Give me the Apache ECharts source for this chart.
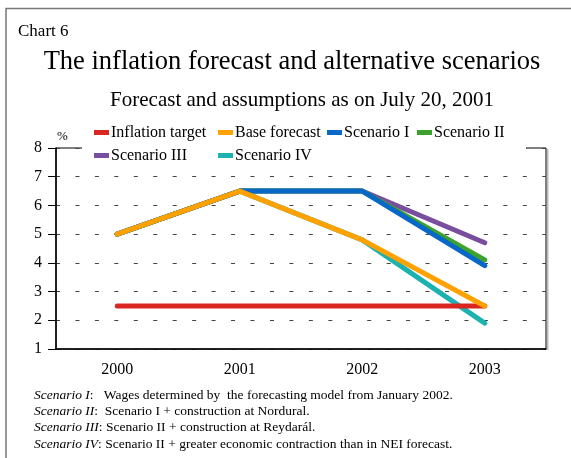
<!DOCTYPE html>
<html>
<head>
<meta charset="utf-8">
<script src="https://cdn.jsdelivr.net/npm/echarts@6/dist/echarts.min.js"></script>
<style>
  html, body { margin: 0; padding: 0; background: #fff; }
  #chart { width: 571px; height: 458px; }
</style>
</head>
<body>
<div id="chart"></div>
<script>
// Years on the horizontal axis
const years = ['2000', '2001', '2002', '2003'];

// Inflation paths, per cent
const inflationTarget = [2.5, 2.5, 2.5, 2.5];
const baseForecast    = [5.0, 6.5, 4.8, 2.5];
const scenarioI       = [5.0, 6.5, 6.5, 3.9];
const scenarioII      = [5.0, 6.5, 6.5, 4.1];
const scenarioIII     = [5.0, 6.5, 6.5, 4.7];
const scenarioIV      = [5.0, 6.5, 4.8, 1.9];

// Vertical axis range
const yMin = 1, yMax = 8, yStep = 1;

const FONT = '"Liberation Serif", "Times New Roman", serif';

const seriesDefs = [
  { name: 'Scenario IV',      data: scenarioIV,      color: '#1cb2b0' },
  { name: 'Scenario III',     data: scenarioIII,     color: '#7a4e9e' },
  { name: 'Scenario II',      data: scenarioII,      color: '#3ba22c' },
  { name: 'Scenario I',       data: scenarioI,       color: '#0868c8' },
  { name: 'Inflation target', data: inflationTarget, color: '#da2620' },
  { name: 'Base forecast',    data: baseForecast,    color: '#ffa100' }
];

// One legend per entry so the entries sit in two aligned rows
const legendSlots = [
  { name: 'Inflation target', left: 94,  top: 124.5 },
  { name: 'Base forecast',    left: 218, top: 124.5 },
  { name: 'Scenario I',       left: 327, top: 124.5 },
  { name: 'Scenario II',      left: 417, top: 124.5 },
  { name: 'Scenario III',     left: 94,  top: 147.5 },
  { name: 'Scenario IV',      left: 218, top: 147.5 }
];

const notes = [
  ['Scenario I', ':   Wages determined by  the forecasting model from January 2002.'],
  ['Scenario II', ':  Scenario I + construction at Nordural.'],
  ['Scenario III', ': Scenario II + construction at Reydarál.'],
  ['Scenario IV', ': Scenario II + greater economic contraction than in NEI forecast.']
];

const chart = echarts.init(document.getElementById('chart'), null, { renderer: 'canvas' });

const option = {
  backgroundColor: '#fff',
  animation: false,
  textStyle: { fontFamily: FONT, color: '#000' },
  title: [
    { text: 'Chart 6', left: 18, top: 23, padding: 0,
      textStyle: { fontFamily: FONT, fontWeight: 'normal', fontSize: 17, color: '#000' } },
    { text: 'The inflation forecast and alternative scenarios', left: 292, top: 49, padding: 0, textAlign: 'center',
      textStyle: { fontFamily: FONT, fontWeight: 'normal', fontSize: 26.5, color: '#000' } },
    { text: 'Forecast and assumptions as on July 20, 2001', left: 302, top: 90, padding: 0, textAlign: 'center',
      textStyle: { fontFamily: FONT, fontWeight: 'normal', fontSize: 21, color: '#000' } },
    { text: '%', left: 57, top: 130, padding: 0,
      textStyle: { fontFamily: FONT, fontWeight: 'normal', fontSize: 13, color: '#000' } }
  ],
  legend: legendSlots.map(s => ({
    data: [s.name],
    left: s.left,
    top: s.top,
    padding: 0,
    orient: 'horizontal',
    itemWidth: 15,
    itemHeight: 5,
    icon: 'rect',
    selectedMode: false,
    z: 5,
    textStyle: { fontFamily: FONT, fontSize: 16, color: '#000', padding: [0, 0, 0, -3] }
  })),
  grid: {
    left: 56, right: 25, top: 148, bottom: 109,
    show: true, borderColor: '#000', borderWidth: 1, backgroundColor: 'transparent'
  },
  xAxis: {
    type: 'category',
    data: years,
    boundaryGap: true,
    axisLine: { lineStyle: { color: '#000', width: 1.5 } },
    axisTick: { alignWithLabel: true, length: 6, lineStyle: { color: '#000' } },
    axisLabel: { margin: 13, fontFamily: FONT, fontSize: 16, color: '#000' },
    splitLine: { show: false }
  },
  yAxis: {
    type: 'value',
    min: yMin, max: yMax, interval: yStep,
    axisLine: { show: true, lineStyle: { color: '#000', width: 1.5 } },
    axisTick: { show: true, length: 8, lineStyle: { color: '#000' } },
    axisLabel: { margin: 14, fontFamily: FONT, fontSize: 16, color: '#000' },
    splitLine: { show: true, lineStyle: { color: '#444', width: 1.2, type: [4, 15.45] } }
  },
  series: seriesDefs.map(d => ({
    name: d.name,
    type: 'line',
    data: d.data,
    color: d.color,
    symbol: 'none',
    lineStyle: { width: 5, color: d.color, cap: 'round', join: 'round' },
    emphasis: { disabled: true }
  })),
  graphic: [
    // outer frame
    { type: 'rect', z: 10, silent: true,
      shape: { x: 6, y: 8.5, width: 600, height: 500 },
      style: { fill: 'none', stroke: '#777', lineWidth: 1.5 } },
    // white band behind the legend rows
    { type: 'rect', z: 2, silent: true,
      shape: { x: 82, y: 118, width: 444, height: 48 },
      style: { fill: '#fff' } },
    // faint shadow along the right edge of the plot
    { type: 'rect', z: 2, silent: true,
      shape: { x: 547, y: 149, width: 1.5, height: 201 },
      style: { fill: '#bbb' } }
  ].concat(notes.map((n, i) => ({
    type: 'text', left: 34, top: 388 + i * 16.4, z: 10, silent: true,
    style: {
      text: '{it|' + n[0] + '}' + n[1],
      font: '13.5px ' + FONT,
      fill: '#000',
      rich: { it: { fontStyle: 'italic', fontFamily: FONT, fontSize: 13.5, fill: '#000' } }
    }
  })))
};

chart.setOption(option);
</script>
</body>
</html>
